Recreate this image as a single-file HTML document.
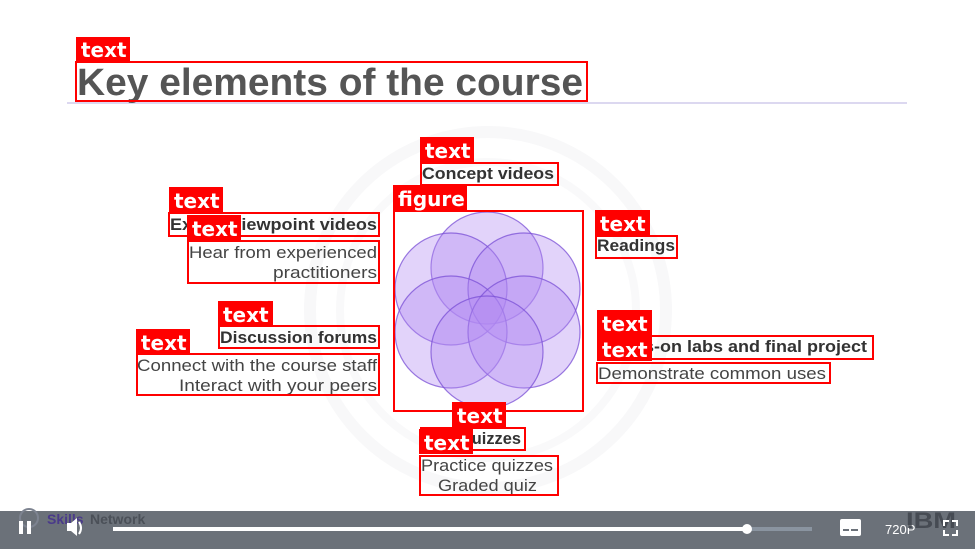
<!DOCTYPE html>
<html><head><meta charset="utf-8"><style>
html,body{margin:0;padding:0;background:#fff;}
svg{display:block;}
</style></head><body>
<svg width="975" height="549" viewBox="0 0 975 549" xmlns="http://www.w3.org/2000/svg" font-family="Liberation Sans, sans-serif">
<rect width="975" height="549" fill="#fff"/>
<!-- faint rings -->
<circle cx="488" cy="310" r="178" fill="none" stroke="#f8f8f9" stroke-width="12"/>
<circle cx="488" cy="310" r="148" fill="none" stroke="#f9f9fa" stroke-width="8"/>
<!-- separator -->
<rect x="67" y="102" width="840" height="2" fill="#dcd8f0"/>
<!-- title -->
<text x="77" y="95" font-size="38" font-weight="bold" fill="#555" textLength="506" lengthAdjust="spacingAndGlyphs">Key elements of the course</text>
<!-- flower -->
<g fill="#b48cf2" fill-opacity="0.38" stroke="#7a4fd6" stroke-opacity="0.75" stroke-width="1.2">
<circle cx="487" cy="268" r="56"/>
<circle cx="451" cy="289" r="56"/>
<circle cx="524" cy="289" r="56"/>
<circle cx="451" cy="332" r="56"/>
<circle cx="524" cy="332" r="56"/>
<circle cx="487" cy="352" r="56"/>
</g>
<!-- texts -->
<g fill="#333" font-weight="bold" font-size="17">
<text x="422" y="179" textLength="132" lengthAdjust="spacingAndGlyphs">Concept videos</text>
<text x="170" y="230" textLength="207" lengthAdjust="spacingAndGlyphs">Expert viewpoint videos</text>
<text x="220" y="343" textLength="157" lengthAdjust="spacingAndGlyphs">Discussion forums</text>
<text x="597" y="251" textLength="78" lengthAdjust="spacingAndGlyphs">Readings</text>
<text x="599" y="352" textLength="268" lengthAdjust="spacingAndGlyphs">Hands-on labs and final project</text>
<text x="459" y="444" textLength="62" lengthAdjust="spacingAndGlyphs">Quizzes</text>
</g>
<g fill="#444" font-size="17">
<text x="189" y="258" textLength="188" lengthAdjust="spacingAndGlyphs">Hear from experienced</text>
<text x="273" y="278" textLength="104" lengthAdjust="spacingAndGlyphs">practitioners</text>
<text x="137" y="371" textLength="240" lengthAdjust="spacingAndGlyphs">Connect with the course staff</text>
<text x="179" y="391" textLength="198" lengthAdjust="spacingAndGlyphs">Interact with your peers</text>
<text x="598" y="379" textLength="228" lengthAdjust="spacingAndGlyphs">Demonstrate common uses</text>
<text x="421" y="471" textLength="132" lengthAdjust="spacingAndGlyphs">Practice quizzes</text>
<text x="438" y="491" textLength="99" lengthAdjust="spacingAndGlyphs">Graded quiz</text>
</g>
<!-- red boxes -->
<g fill="none" stroke="#f00" stroke-width="2">
<rect x="76" y="62" width="511" height="39"/>
<rect x="421" y="163" width="137" height="22"/>
<rect x="394" y="211" width="189" height="200"/>
<rect x="169" y="213" width="210" height="23"/>
<rect x="188" y="241" width="191" height="42"/>
<rect x="219" y="326" width="160" height="22"/>
<rect x="137" y="354" width="242" height="41"/>
<rect x="596" y="236" width="81" height="22"/>
<rect x="598" y="336" width="275" height="23"/>
<rect x="597" y="363" width="233" height="20"/>
<rect x="421" y="428" width="104" height="22"/>
<rect x="420" y="456" width="138" height="39"/>
</g>
<!-- tags -->
<g fill="#f00">
<rect x="76" y="37" width="54" height="24"/>
<rect x="420" y="137" width="54" height="25"/>
<rect x="393" y="185" width="74" height="25"/>
<rect x="169" y="187" width="54" height="25"/>
<rect x="187" y="215" width="54" height="25"/>
<rect x="218" y="301" width="55" height="25"/>
<rect x="136" y="329" width="54" height="25"/>
<rect x="595" y="210" width="55" height="25"/>
<rect x="597" y="310" width="55" height="25"/>
<rect x="597" y="336" width="55" height="25"/>
<rect x="452" y="402" width="54" height="25"/>
<rect x="419" y="429" width="54" height="25"/>
</g>
<g fill="#fff" font-size="20" font-weight="bold" font-family="DejaVu Sans, sans-serif">
<text x="81" y="57">text</text>
<text x="425" y="158">text</text>
<text x="398" y="206">figure</text>
<text x="174" y="208">text</text>
<text x="192" y="236">text</text>
<text x="223" y="322">text</text>
<text x="141" y="350">text</text>
<text x="600" y="231">text</text>
<text x="602" y="331">text</text>
<text x="602" y="357">text</text>
<text x="457" y="423">text</text>
<text x="424" y="450">text</text>
</g>
<!-- bottom bar -->
<rect x="0" y="511" width="975" height="38" fill="#6b7179"/>
<circle cx="29" cy="518" r="9" fill="none" stroke="#7d8390" stroke-width="2"/>
<text x="47" y="524" font-size="14" font-weight="bold" fill="#4a3a8a">Skills</text>
<text x="90" y="524" font-size="14" font-weight="bold" fill="#4b5058">Network</text>
<rect x="19" y="521" width="4" height="13" fill="#fff"/>
<rect x="27" y="521" width="4" height="13" fill="#fff"/>
<path d="M67 523 h4 l6 -5 v18 l-6 -5 h-4z" fill="#fff"/>
<path d="M79 522 q4 6 0 12" fill="none" stroke="#fff" stroke-width="2"/>
<rect x="113" y="527" width="634" height="4" fill="#fff"/>
<rect x="747" y="527" width="65" height="4" fill="#8a94a0"/>
<circle cx="747" cy="529" r="5" fill="#fff"/>
<rect x="840" y="519" width="21" height="17" rx="2" fill="#fff"/>
<rect x="843" y="529" width="6" height="2" fill="#6b7179"/>
<rect x="851" y="529" width="7" height="2" fill="#6b7179"/>
<text x="885" y="534" font-size="13" fill="#fff">720P</text>
<text x="906" y="528" font-size="22" font-weight="bold" fill="#3d424a" fill-opacity="0.8" textLength="50" lengthAdjust="spacingAndGlyphs">IBM</text>
<g fill="none" stroke="#fff" stroke-width="2">
<path d="M944 526 v-5 h5 M952 521 h5 v5 M957 530 v5 h-5 M949 535 h-5 v-5"/>
</g>
</svg>
</body></html>
